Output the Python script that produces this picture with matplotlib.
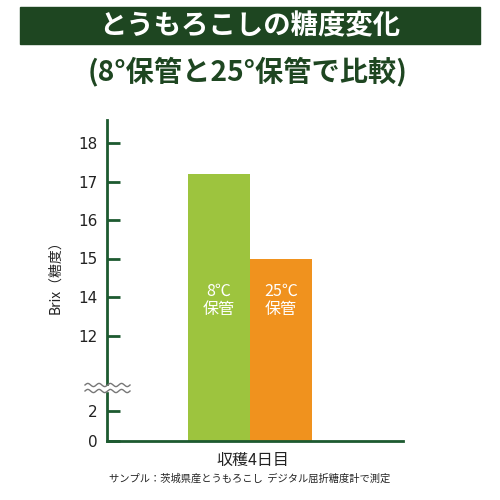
import numpy as np
import matplotlib.pyplot as plt
from matplotlib.patches import Rectangle

plt.rcParams['font.family'] = ['Noto Sans CJK JP', 'DejaVu Sans']

title = 'とうもろこしの糖度変化'
subtitle = '(8°保管と25°保管で比較)'
bar_labels = ['8℃\n保管', '25℃\n保管']
brix = [17.2, 15.0]
bar_colors = ['#9dc43e', '#f0921e']
tick_values = [0, 2, 12, 14, 15, 16, 17, 18]
x_label = '収穫4日目'
y_label = 'Brix（糖度）'
note = 'サンプル：茨城県産とうもろこし  デジタル屈折糖度計で測定'

# broken axis: value -> pixel height above baseline
knot_val = np.array([0, 2, 12, 14, 20])
knot_pos = np.array([0, 30, 105, 144, 375])


def fwd(v):
    return np.interp(v, knot_val, knot_pos)


def inv(p):
    return np.interp(p, knot_pos, knot_val)


dark = '#1e4621'
axis_col = '#1d5a30'

fig = plt.figure(figsize=(5, 5), dpi=100)

# title banner
fig.patches.append(Rectangle((0.04, 1 - 44/500), 0.92, 37/500,
                             transform=fig.transFigure, color=dark, zorder=0))
fig.text(0.5, 1 - 26/500, title, color='white', fontsize=19.7, fontweight='bold',
         ha='center', va='center')
fig.text(0.496, 1 - 71/500, subtitle, color=dark, fontsize=20.3, fontweight='bold',
         ha='center', va='center')

ax = fig.add_axes([107/500, 59/500, 296/500, 321/500])
ax.set_yscale('function', functions=(fwd, inv))

xs = np.arange(len(brix))
ax.bar(xs, brix, width=1.0, color=bar_colors, zorder=2)
for x, lab in zip(xs, bar_labels):
    ax.text(x, inv(fwd(0) + 141), lab, color='white', fontsize=11.5,
            ha='center', va='center', linespacing=1.1, zorder=3)

ax.set_xlim(-1.806, 2.97)
ax.set_ylim(0, inv(321))
ax.set_yticks(tick_values)
ax.set_yticklabels([str(t) for t in tick_values], fontsize=11, color='#222222',
                   family='DejaVu Sans')
ax.set_xticks([])
ax.tick_params(axis='y', direction='in', length=9, width=2, color=axis_col, pad=7)

for s in ['top', 'right']:
    ax.spines[s].set_visible(False)
for s in ['left', 'bottom']:
    ax.spines[s].set_color(axis_col)
    ax.spines[s].set_linewidth(2)

ax.set_ylabel(y_label, fontsize=10, color='#222222')
ax.yaxis.set_label_coords(-0.152, 0.52)

# break mark on the y axis
xw = np.linspace(85, 130, 200)
wave = 1.6 * np.sin((xw - 85) / 45 * 4 * 2 * np.pi)
yb = 500 - 388
fig.patches.append(Rectangle((85/500, (yb - 2.5)/500), 45/500, 5/500,
                             transform=fig.transFigure, color='white', zorder=5))
for off in (-3, 3):
    fig.lines.append(plt.Line2D(xw/500, (yb + off + wave)/500, transform=fig.transFigure,
                                color='#777777', lw=1, zorder=6))

fig.text(253/500, 1 - 461/500, x_label, fontsize=11.5, ha='center', va='center',
         color='#222222')
fig.text(250/500, 1 - 479/500, note, fontsize=7.4, ha='center', va='center',
         color='#222222')

fig.savefig('out.png', dpi=100)
